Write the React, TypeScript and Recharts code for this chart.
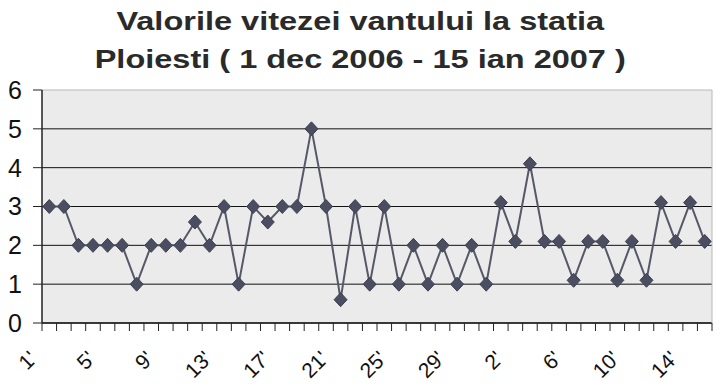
import { LineChart, Line, XAxis, YAxis, CartesianGrid } from 'recharts';

// Dec 1 .. Dec 31, then Jan 1 .. Jan 15
const days = [
    '1', '2', '3', '4', '5', '6', '7', '8', '9', '10', '11', '12', '13', '14', '15', '16',
    '17', '18', '19', '20', '21', '22', '23', '24', '25', '26', '27', '28', '29', '30', '31',
    '1', '2', '3', '4', '5', '6', '7', '8', '9', '10', '11', '12', '13', '14', '15',
];

const windSpeed = [
    3, 3, 2, 2, 2, 2, 1, 2, 2, 2, 2.6, 2, 3, 1, 3, 2.6,
    3, 3, 5, 3, 0.6, 3, 1, 3, 1, 2, 1, 2, 1, 2, 1,
    3.1, 2.1, 4.1, 2.1, 2.1, 1.1, 2.1, 2.1, 1.1, 2.1, 1.1, 3.1, 2.1, 3.1, 2.1,
];

const yTicks = [0, 1, 2, 3, 4, 5, 6];

const titleLines = [
    'Valorile vitezei vantului la statia',
    'Ploiesti ( 1 dec 2006 - 15 ian 2007 )',
];

const data = days.map((day, i) => ({ day: `${day}'`, idx: i, speed: windSpeed[i] }));

const WIDTH = 722;
const HEIGHT = 387;
const LEFT = 42;
const RIGHT = 10;
const TOP = 90;
const BAND = (WIDTH - LEFT - RIGHT) / days.length;
const FONT = "'Liberation Sans', Arial, sans-serif";

function Diamond(props: any) {
    const { cx, cy } = props;
    if (cx == null || cy == null) return null;
    return (
        <path
            d={`M${cx},${cy - 7} L${cx + 6.5},${cy} L${cx},${cy + 7} L${cx - 6.5},${cy} Z`}
            fill="#4b4e60"
            stroke="#3e4050"
            strokeWidth={1}
        />
    );
}

function DayTick(props: any) {
    const { x, y, payload, index } = props;
    const left = x - BAND / 2;
    const last = index === days.length - 1;
    const px = x - 11;
    const py = y + 29;
    return (
        <g>
            <line x1={left} y1={y - 8} x2={left} y2={y} stroke="#222" strokeWidth={1} />
            {last && <line x1={x + BAND / 2} y1={y - 8} x2={x + BAND / 2} y2={y} stroke="#222" strokeWidth={1} />}
            {index % 4 === 0 && (
                <text
                    x={px}
                    y={py}
                    transform={`rotate(-45, ${px}, ${py})`}
                    textAnchor="end"
                    fontSize={21}
                    fill="#111"
                    fontFamily={FONT}
                >
                    {data[payload.value].day}
                </text>
            )}
        </g>
    );
}

function GridLine(props: any) {
    const { x1, x2, y1, y2 } = props;
    const top = Math.abs(y1 - TOP) < 1;
    return <line x1={x1} x2={x2} y1={y1} y2={y2} stroke={top ? '#b8b8b8' : '#111'} strokeWidth={1} />;
}

export default function App() {
    return (
        <div style={{ position: 'absolute', left: 0, top: 0, width: WIDTH, height: HEIGHT, background: '#fff' }}>
            <div
                style={{
                    position: 'absolute',
                    left: 0,
                    top: 2,
                    width: WIDTH,
                    textAlign: 'center',
                    fontFamily: FONT,
                    fontWeight: 'bold',
                    fontSize: 26,
                    lineHeight: '38px',
                    color: '#2a2a2a',
                    transform: 'scaleX(1.25)',
                    transformOrigin: '364px 0',
                }}
            >
                {titleLines.map((t) => (
                    <div key={t}>{t}</div>
                ))}
            </div>
            <LineChart
                width={WIDTH}
                height={HEIGHT}
                data={data}
                margin={{ top: TOP, right: 0, bottom: 14, left: 0 }}
            >
                <CartesianGrid
                    vertical={false}
                    horizontal={(p: any) => <GridLine key={`g-${p.y1}`} {...p} />}
                    fill="#ebebeb"
                    fillOpacity={1}
                />
                <XAxis
                    dataKey="idx"
                    type="category"
                    interval={0}
                    height={50}
                    padding={{ left: BAND / 2, right: BAND / 2 }}
                    tickLine={false}
                    axisLine={{ stroke: '#222', strokeWidth: 1.5 }}
                    tick={<DayTick />}
                />
                <YAxis
                    domain={[0, 6]}
                    ticks={yTicks}
                    width={LEFT}
                    tickSize={9}
                    tickMargin={11}
                    tickLine={{ stroke: '#222' }}
                    axisLine={{ stroke: '#222', strokeWidth: 1.5 }}
                    tick={{ fontSize: 25, fill: '#111', fontFamily: FONT }}
                    interval={0}
                />
                <YAxis
                    yAxisId="frame"
                    orientation="right"
                    width={RIGHT}
                    tick={false}
                    tickLine={false}
                    axisLine={{ stroke: '#b8b8b8' }}
                />
                <Line
                    type="linear"
                    dataKey="speed"
                    stroke="#565868"
                    strokeWidth={2}
                    dot={<Diamond />}
                    activeDot={false}
                    isAnimationActive={false}
                />
            </LineChart>
        </div>
    );
}
